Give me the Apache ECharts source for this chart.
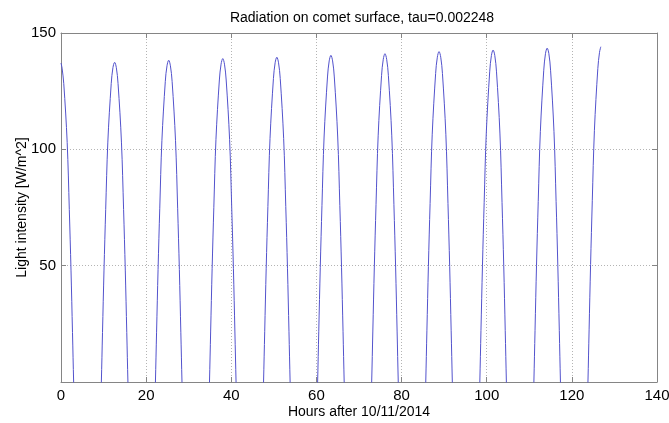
<!DOCTYPE html>
<html>
<head>
<meta charset="utf-8">
<script src="https://cdn.jsdelivr.net/npm/echarts@6/dist/echarts.min.js"></script>
<style>
  html, body { margin: 0; padding: 0; background: #ffffff; }
  #chart { width: 669px; height: 423px; }
</style>
</head>
<body>
<div id="chart"></div>
<script>
// Values (hours after 10/11/2014, light intensity W/m^2)
const hours = [
  0, 0.25, 0.65, 1.45, 1.95, 2.35, 2.7, 2.97, 3.45,
  9.0, 9.48, 9.75, 10.1, 10.5, 11.0, 11.8, 12.2, 12.6, 13.0, 13.4, 14.2, 14.7, 15.1, 15.45, 15.72, 16.2,
  21.7, 22.18, 22.45, 22.8, 23.2, 23.7, 24.5, 24.9, 25.3, 25.7, 26.1, 26.9, 27.4, 27.8, 28.15, 28.42, 28.9,
  34.4, 34.88, 35.15, 35.5, 35.9, 36.4, 37.2, 37.6, 38.0, 38.4, 38.8, 39.6, 40.1, 40.5, 40.85, 41.12, 41.6,
  47.1, 47.58, 47.85, 48.2, 48.6, 49.1, 49.9, 50.3, 50.7, 51.1, 51.5, 52.3, 52.8, 53.2, 53.55, 53.82, 54.3,
  59.8, 60.28, 60.55, 60.9, 61.3, 61.8, 62.6, 63.0, 63.4, 63.8, 64.2, 65.0, 65.5, 65.9, 66.25, 66.52, 67.0,
  72.5, 72.98, 73.25, 73.6, 74.0, 74.5, 75.3, 75.7, 76.1, 76.5, 76.9, 77.7, 78.2, 78.6, 78.95, 79.22, 79.7,
  85.2, 85.68, 85.95, 86.3, 86.7, 87.2, 88.0, 88.4, 88.8, 89.2, 89.6, 90.4, 90.9, 91.3, 91.65, 91.92, 92.4,
  97.9, 98.38, 98.65, 99.0, 99.4, 99.9, 100.7, 101.1, 101.5, 101.9, 102.3, 103.1, 103.6, 104.0, 104.35, 104.62, 105.1,
  110.6, 111.08, 111.35, 111.7, 112.1, 112.6, 113.4, 113.8, 114.2, 114.6, 115.0, 115.8, 116.3, 116.7, 117.05, 117.32, 117.8,
  123.3, 123.78, 124.05, 124.4, 124.8, 125.3, 126.1, 126.5, 126.8
];
const intensity = [
  137.1, 134.9, 128.2, 103.0, 74.1, 48.1, 21.3, 0, -34,
  -34, 0, 21.3, 48.1, 74.2, 103.1, 128.3, 135.1, 137.4, 135.1, 128.3, 103.1, 74.2, 48.1, 21.3, 0, -34,
  -35, 0, 21.4, 48.4, 74.7, 103.7, 129.2, 135.9, 138.3, 135.9, 129.2, 103.7, 74.7, 48.4, 21.4, 0, -35,
  -35, 0, 21.5, 48.7, 75.1, 104.3, 129.8, 136.6, 139.0, 136.6, 129.8, 104.3, 75.1, 48.7, 21.5, 0, -35,
  -35, 0, 21.6, 48.9, 75.4, 104.7, 130.4, 137.2, 139.6, 137.2, 130.4, 104.7, 75.4, 48.9, 21.6, 0, -35,
  -35, 0, 21.8, 49.1, 75.8, 105.3, 131.1, 138.0, 140.4, 138.0, 131.1, 105.3, 75.8, 49.1, 21.8, 0, -35,
  -35, 0, 21.9, 49.4, 76.2, 105.8, 131.8, 138.7, 141.1, 138.7, 131.8, 105.8, 76.2, 49.4, 21.9, 0, -35,
  -36, 0, 22.0, 49.7, 76.7, 106.5, 132.6, 139.6, 142.0, 139.6, 132.6, 106.5, 76.7, 49.7, 22.0, 0, -36,
  -36, 0, 22.1, 49.9, 77.1, 107.0, 133.3, 140.3, 142.7, 140.3, 133.3, 107.0, 77.1, 49.9, 22.1, 0, -36,
  -36, 0, 22.2, 50.2, 77.5, 107.6, 134.0, 141.1, 143.5, 141.1, 134.0, 107.6, 77.5, 50.2, 22.2, 0, -36,
  -36, 0, 22.4, 50.5, 77.9, 108.2, 134.7, 141.7, 144.1
];
const xTicks = [0, 20, 40, 60, 80, 100, 120, 140];
const yTicks = [0, 50, 100, 150];
const titleText = 'Radiation on comet surface, tau=0.002248';
const xName = 'Hours after 10/11/2014';
const yName = 'Light intensity [W/m^2]';

const FONT = '"Liberation Sans", Arial, sans-serif';
const AXIS_COLOR = '#858585';
const GRID_COLOR = '#b4b4b4';

const chart = echarts.init(document.getElementById('chart'), null, { renderer: 'canvas' });

const xStep = xTicks[1] - xTicks[0];
const yStep = yTicks[1] - yTicks[0];

function axisBase() {
  return {
    axisLine: { show: true, onZero: false, lineStyle: { color: AXIS_COLOR, width: 1 } },
    axisTick: { show: true, inside: true, length: 5, lineStyle: { color: AXIS_COLOR } }
  };
}

chart.setOption({
  animation: false,
  backgroundColor: '#ffffff',
  title: {
    text: titleText,
    left: 362,
    top: 11,
    padding: 0,
    textAlign: 'center',
    textStyle: { fontFamily: FONT, fontSize: 14, fontWeight: 'normal', color: '#000' }
  },
  grid: { left: 61, right: 12, top: 33, bottom: 41, containLabel: false, outerBoundsMode: 'none' },
  xAxis: [
    Object.assign(axisBase(), {
      type: 'value', position: 'bottom',
      min: xTicks[0], max: xTicks[xTicks.length - 1], interval: xStep,
      name: xName, nameLocation: 'middle', nameGap: 23, nameMoveOverlap: false,
      nameTextStyle: { fontFamily: FONT, fontSize: 14, color: '#000' },
      axisLabel: { fontFamily: FONT, fontSize: 15, color: '#000', margin: 6 },
      splitLine: { show: true, lineStyle: { color: GRID_COLOR, type: [1, 2], width: 1 } }
    }),
    Object.assign(axisBase(), {
      type: 'value', position: 'top',
      min: xTicks[0], max: xTicks[xTicks.length - 1], interval: xStep,
      axisLabel: { show: false }, splitLine: { show: false }
    })
  ],
  yAxis: [
    Object.assign(axisBase(), {
      type: 'value', position: 'left',
      min: yTicks[0], max: yTicks[yTicks.length - 1], interval: yStep,
      name: yName, nameLocation: 'middle', nameGap: 32, nameMoveOverlap: false,
      nameTextStyle: { fontFamily: FONT, fontSize: 14, color: '#000' },
      axisLabel: { fontFamily: FONT, fontSize: 15, color: '#000', margin: 5,
        formatter: v => (v === 0 ? '' : String(v)) },
      splitLine: { show: true, lineStyle: { color: GRID_COLOR, type: [1, 2], width: 1 } }
    }),
    Object.assign(axisBase(), {
      type: 'value', position: 'right',
      min: yTicks[0], max: yTicks[yTicks.length - 1], interval: yStep,
      axisLabel: { show: false }, splitLine: { show: false }
    })
  ],
  series: [{
    type: 'line',
    xAxisIndex: 0,
    yAxisIndex: 0,
    data: hours.map((h, i) => [h, intensity[i]]),
    showSymbol: false,
    smooth: 0.35,
    clip: true,
    lineStyle: { color: '#5252cc', width: 1 }
  }]
});
</script>
</body>
</html>
